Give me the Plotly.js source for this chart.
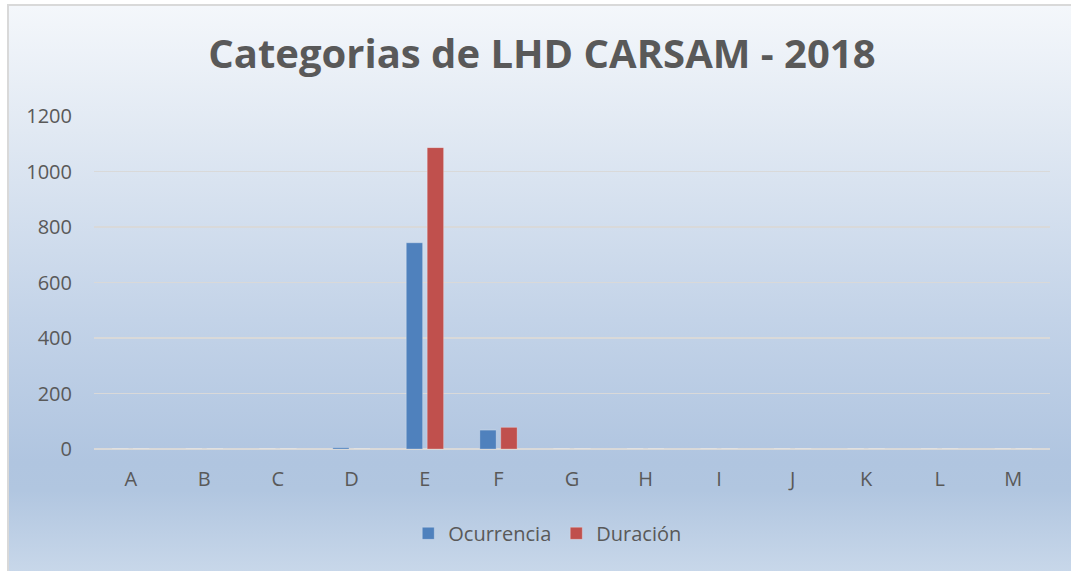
<!DOCTYPE html>
<html>
<head>
<meta charset="utf-8">
<script src="https://cdn.plot.ly/plotly-3.0.1.min.js"></script>
<style>
  body { margin: 0; background: #fff; }
  #frame {
    position: absolute; left: 7px; top: 4px; width: 1070px; height: 570px;
    border-left: 2px solid #d9d9d9; border-top: 2px solid #d9d9d9;
    background: linear-gradient(to bottom, #f4f7fb 0%, #e1e9f3 22%, #c3d3e8 55%, #b0c5e0 80%, #b1c6e0 85%, #c9d8ea 100%);
  }
  #lhdfig { position: absolute; left: 0; top: 0; width: 1071px; height: 571px; }
</style>
</head>
<body>
<div id="frame"></div>
<div id="lhdfig"></div>
<script>
var categorias = ['A', 'B', 'C', 'D', 'E', 'F', 'G', 'H', 'I', 'J', 'K', 'L', 'M'];
var ocurrencia = [0, 0, 0, 5, 743, 68, 0, 0, 0, 0, 0, 0, 0];
var duracion   = [0, 0, 0, 0, 1086, 78, 0, 0, 0, 0, 0, 0, 0];
var yticks = [0, 200, 400, 600, 800, 1000, 1200];

var fuente = 'Open Sans, sans-serif';
var gris = '#595959';

var bar1 = { x: categorias, y: ocurrencia, name: 'Ocurrencia', type: 'bar',
  marker: { color: '#4f81bd', line: { color: 'rgba(255,255,255,0.25)', width: 1 } } };
var bar2 = { x: categorias, y: duracion, name: 'Duración', type: 'bar',
  marker: { color: '#c0504d', line: { color: 'rgba(255,255,255,0.25)', width: 1 } } };

var layout = {
  width: 1071, height: 571,
  paper_bgcolor: 'rgba(0,0,0,0)',
  plot_bgcolor: 'rgba(0,0,0,0)',
  margin: { l: 94, r: 21, t: 116, b: 122 },
  barmode: 'group',
  bargap: 0.43,
  bargroupgap: 0.22,
  title: {
    text: '<b>Categorias de LHD CARSAM - 2018</b>',
    font: { family: fuente, size: 40, color: gris },
    x: 0.506, xref: 'container', xanchor: 'center',
    y: 0.905, yref: 'container', yanchor: 'middle'
  },
  showlegend: true,
  legend: {
    orientation: 'h', xref: 'container', x: 0.511, xanchor: 'center',
    yref: 'container', y: 0.066, yanchor: 'middle',
    font: { family: fuente, size: 20, color: gris },
    itemwidth: 30, traceorder: 'normal'
  },
  xaxis: {
    showgrid: false, showline: false, zeroline: false,
    ticks: '', ticklabelstandoff: 16,
    tickfont: { family: fuente, size: 20, color: gris }
  },
  yaxis: {
    range: [0, 1200], tickvals: yticks,
    showgrid: true, gridcolor: '#d9d9d9', gridwidth: 1.5,
    zeroline: true, zerolinecolor: '#d9d9d9', zerolinewidth: 2.5,
    showline: false, ticks: '', ticklabelstandoff: 21,
    tickfont: { family: fuente, size: 20, color: gris }
  }
};

Plotly.newPlot('lhdfig', [bar1, bar2], layout, { displayModeBar: false, staticPlot: true });
</script>
</body>
</html>
